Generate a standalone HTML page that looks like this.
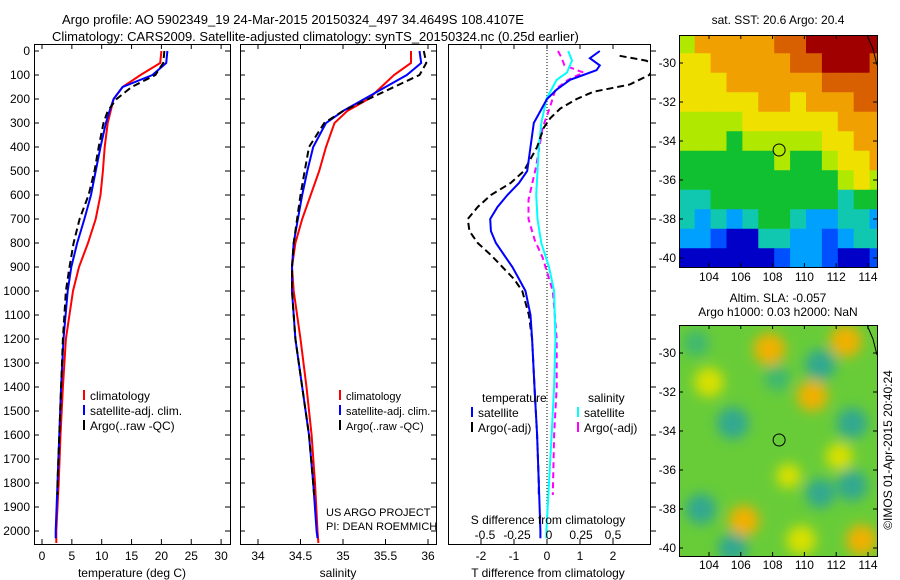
<!DOCTYPE html>
<html><head><meta charset="utf-8">
<style>
html,body{margin:0;padding:0;background:#fff;}
svg{display:block;font-family:"Liberation Sans",sans-serif;}
text{font-size:12px;fill:#000;}
</style></head>
<body>
<svg id="fig" width="900" height="580" xmlns="http://www.w3.org/2000/svg">
<defs id="defs0"></defs>
<text x="62" y="24" style="font-size:13px">Argo profile: AO 5902349_19 24-Mar-2015 20150324_497 34.4649S 108.4107E</text>
<text x="52" y="41" style="font-size:13px">Climatology: CARS2009. Satellite-adjusted climatology: synTS_20150324.nc (0.25d earlier)</text>
<text x="778" y="24" text-anchor="middle">sat. SST: 20.6 Argo: 20.4</text>
<text x="778" y="302" text-anchor="middle">Altim. SLA: -0.057</text>
<text x="778" y="316" text-anchor="middle">Argo h1000: 0.03 h2000: NaN</text>
<text transform="translate(892,450) rotate(-90)" text-anchor="middle">©IMOS 01-Apr-2015 20:40:24</text>
</svg>
<script>
// ---------- data ----------
const tempArgoDepth=[0,50,100,150,200,250,300,400,500,600,700,800,900,1000,1200,1400,1600,1800,1850];
const tempArgo=[20.5,20.3,19,15,12.5,11,10.3,9.5,8.8,7.8,6.3,5.3,4.6,4,3.5,3.2,2.9,2.6,2.6];
const tempSatDepth=[0,50,100,150,200,250,300,400,500,600,700,800,900,1000,1200,1400,1600,1800,2000,2030];
const tempSat=[21,20.8,18.5,13.5,12,11.3,10.7,9.8,9,8.2,7.1,5.9,4.9,4.3,3.6,3.2,2.9,2.6,2.3,2.3];
const tempClimDepth=[0,50,100,150,200,250,300,400,500,600,700,800,900,1000,1200,1400,1600,1800,2000,2050];
const tempClim=[20,19.8,16.5,13.5,12,11.5,11,10.5,10.2,9.8,9,7.7,6.2,5.2,4,3.5,3.1,2.8,2.4,2.4];
const salClim=[35.8,35.8,35.6,35.45,35.3,35.05,34.9,34.8,34.72,34.62,34.52,34.44,34.4,34.42,34.5,34.57,34.63,34.67,34.7,34.71];
const salSat=[35.9,35.92,35.75,35.5,35.25,35.0,34.8,34.65,34.58,34.52,34.47,34.42,34.4,34.4,34.44,34.52,34.6,34.65,34.69,34.7];
const salArgo=[35.95,35.98,35.9,35.6,35.3,35.0,34.78,34.6,34.55,34.5,34.46,34.42,34.4,34.4,34.44,34.52,34.6,34.65,34.66];
const dTsatDepth=[0,30,60,80,100,120,160,200,250,300,400,500,550,600,650,700,750,800,850,900,950,1000,1100,1200,1400,1600,1800,2000,2030];
const dTsat=[1.6,1.3,1.6,1.5,1.1,0.7,0.3,0.0,-0.2,-0.4,-0.5,-0.6,-0.85,-1.2,-1.5,-1.72,-1.7,-1.55,-1.3,-1.05,-0.85,-0.65,-0.5,-0.45,-0.38,-0.3,-0.25,-0.2,-0.2];
const dTargoDepth=[20,40,60,100,140,170,200,240,280,320,400,500,550,600,650,700,750,800,850,900,950,1000,1100,1200,1400,1600,1800,1850];
const dTargo=[2.2,3.0,3.3,3.1,2.5,1.4,0.9,0.4,0.1,-0.1,-0.3,-0.7,-1.1,-1.7,-2.1,-2.4,-2.35,-2.1,-1.7,-1.35,-1.0,-0.75,-0.55,-0.45,-0.38,-0.3,-0.25,-0.25];
const dSsatDepth=[0,40,90,120,200,300,400,500,600,700,800,900,1000,1200,1400,1600,1800,2000,2030];
const dSsat=[0.15,0.18,0.14,0.06,-0.02,-0.06,-0.08,-0.09,-0.1,-0.09,-0.06,0.0,0.04,0.05,0.04,0.02,0.0,-0.02,-0.02];
const dSargoDepth=[0,30,60,90,120,160,230,320,480,620,700,790,860,1000,1200,1400,1600,1850];
const dSargo=[0.07,0.1,0.12,0.27,0.15,0.05,0.01,-0.05,-0.1,-0.16,-0.16,-0.11,-0.05,0.03,0.06,0.06,0.04,0.03];
const depthTicks=[0,100,200,300,400,500,600,700,800,900,1000,1100,1200,1300,1400,1500,1600,1700,1800,1900,2000];
const tempTicks=[0,5,10,15,20,25,30];
const salTicks=[34,34.5,35,35.5,36];
const dTTicks=[-2,-1,0,1,2];
const dSTicks=[-0.5,-0.25,0,0.25,0.5];
const dSTickLabels=['-0.5','-0.25','0','0.25','0.5'];
const sstGrid=[
[6,8,8,8,8,8,9,9,10,10,10,10,10],
[7,7,8,8,8,8,8,9,9,10,10,10,9],
[7,7,7,8,8,8,8,8,8,9,9,9,9],
[7,7,7,7,7,8,8,7,8,8,8,9,9],
[6,6,6,6,7,7,7,7,7,7,8,8,8],
[6,6,6,5,6,6,6,6,6,7,7,8,8],
[5,5,5,5,5,5,6,5,5,6,7,7,8],
[5,5,5,5,5,5,5,5,5,5,6,7,6],
[4,4,5,5,5,5,5,5,5,5,4,5,5],
[4,3,4,3,4,5,5,4,3,3,4,4,3],
[3,3,2,1,1,4,4,3,3,2,3,4,4],
[1,1,1,1,1,1,2,3,3,2,1,1,2]];
const slaBlobLon=[107.8,104,110.5,112.2,106.2,109.8,113.6,112.6,105.5,111,108.3,113,103.5,105.5,111,113,109,103.2];
const slaBlobLat=[-29.8,-31.5,-32.2,-35.3,-38.6,-39.6,-39.6,-29.4,-33.6,-30.6,-31.3,-33.6,-38,-40,-37.2,-36.8,-36.3,-29.5];
const slaBlobVal=[1,0.8,0.9,0.6,0.9,0.8,0.9,1,-1,-0.9,-0.5,-0.9,-0.9,-0.8,-0.8,-0.9,0.4,-0.5];
const lonTicks=[104,106,108,110,112,114];
const latTicks=[-30,-32,-34,-36,-38,-40];
const argoLon=108.41, argoLat=-34.46;
// ---------- helpers ----------
const NS='http://www.w3.org/2000/svg';
const svg=document.getElementById('fig');
const defs=document.getElementById('defs0');
function mk(tag,attrs,parent){const e=document.createElementNS(NS,tag);for(const k in attrs)e.setAttribute(k,attrs[k]);(parent||svg).appendChild(e);return e;}
const yD=d=>51+d*0.24;
const PT=[34,44,230,544], PS=[240,44,436,544], PD=[448,44,650,544];
const xT=v=>42+v*5.97, xS=v=>258+(v-34)*85, xDT=v=>547+v*33, xDS=v=>549+v*128;
function clip(id,b){const c=mk('clipPath',{id:id},defs);mk('rect',{x:b[0],y:b[1],width:b[2]-b[0],height:b[3]-b[1]},c);}
clip('cT',PT);clip('cS',PS);clip('cD',PD);
function line(xs,ds,fx,color,dash,clipId,w){
  let p='';xs.forEach((v,i)=>{p+=(i?'L':'M')+fx(v).toFixed(1)+','+yD(ds[i]).toFixed(1);});
  const e=mk('path',{d:p,fill:'none',stroke:color,'stroke-width':w||2,'clip-path':'url(#'+clipId+')'});
  if(dash)e.setAttribute('stroke-dasharray',dash);
  return e;
}
function box(b){return mk('rect',{x:b[0]+.5,y:b[1]+.5,width:b[2]-b[0],height:b[3]-b[1],fill:'none',stroke:'#000','stroke-width':1});}
function depthTicksFor(b,labels,side){
  depthTicks.forEach(d=>{const y=yD(d);
    if(side==='right'){mk('line',{x1:b[2],x2:b[2]+6,y1:y,y2:y,stroke:'#000'});}
    else{mk('line',{x1:b[0],x2:b[0]+5,y1:y,y2:y,stroke:'#000'});mk('line',{x1:b[2]-5,x2:b[2],y1:y,y2:y,stroke:'#000'});}
    if(labels){const t=mk('text',{x:b[0]-4,y:y+4,'text-anchor':'end'});t.textContent=d;
      
      }
  });
}
function xTicks(b,ticks,fx,labels,ly){
  ticks.forEach((v,i)=>{const x=fx(v);
    mk('line',{x1:x,x2:x,y1:b[3]-5,y2:b[3],stroke:'#000'});mk('line',{x1:x,x2:x,y1:b[1],y2:b[1]+5,stroke:'#000'});
    const t=mk('text',{x:x,y:ly,'text-anchor':'middle'});t.textContent=labels?labels[i]:v;
    
    });
}
function legend(x,y,items,fs){
  items.forEach((it,i)=>{const yy=y+i*15;
    const l=mk('line',{x1:x,x2:x,y1:yy-8,y2:yy+2,stroke:it[1],'stroke-width':2});
    
    
    const t=mk('text',{x:x+6,y:yy+2});t.textContent=it[0];
    if(fs)t.setAttribute('style','font-size:'+fs+'px');
    
    });
}
function title(x,y,s,name){const t=mk('text',{x:x,y:y,'text-anchor':'middle'});t.textContent=s;
  
  }
// ---------- panel 1: temperature ----------
line(tempClim,tempClimDepth,xT,'#f00',null,'cT');
line(tempSat,tempSatDepth,xT,'#00f',null,'cT');
line(tempArgo,tempArgoDepth,xT,'#000','7,4','cT');
box(PT);
depthTicksFor(PT,true);
xTicks(PT,tempTicks,xT,null,560);
title(132,577,'temperature (deg C)','temperature-axis-title');
legend(84,398,[['climatology','#f00'],['satellite-adj. clim.','#00f'],['Argo(..raw -QC)','#000']]);
// ---------- panel 2: salinity ----------
line(salClim,tempClimDepth,xS,'#f00',null,'cS');
line(salSat,tempSatDepth,xS,'#00f',null,'cS');
line(salArgo,tempArgoDepth,xS,'#000','7,4','cS');
box(PS);
depthTicksFor(PS,false);
xTicks(PS,salTicks,xS,null,560);
title(338,577,'salinity','salinity-axis-title');
legend(340,398,[['climatology','#f00'],['satellite-adj. clim.','#00f'],['Argo(..raw -QC)','#000']],11);
{const a=mk('text',{x:326,y:516,style:'font-size:11px'});a.textContent='US ARGO PROJECT';
 
 const b=mk('text',{x:326,y:530,style:'font-size:11px'});b.textContent='PI: DEAN ROEMMICH';
 }
// ---------- panel 3: differences ----------
mk('line',{x1:xDT(0),x2:xDT(0),y1:PD[1],y2:PD[3],stroke:'#000','stroke-dasharray':'1,2'});
line(dSargo,dSargoDepth,xDS,'#f0f','6,4','cD');
line(dSsat,dSsatDepth,xDS,'#0ff',null,'cD');
line(dTargo,dTargoDepth,xDT,'#000','7,4','cD');
line(dTsat,dTsatDepth,xDT,'#00f',null,'cD');
box(PD);
depthTicksFor(PD,false,'right');
dTTicks.forEach(v=>{const x=xDT(v);mk('line',{x1:x,x2:x,y1:PD[3]-5,y2:PD[3],stroke:'#000'});mk('line',{x1:x,x2:x,y1:PD[1],y2:PD[1]+5,stroke:'#000'});
  const t=mk('text',{x:x,y:560,'text-anchor':'middle'});t.textContent=v;
  
  });
dSTicks.forEach((v,i)=>{const t=mk('text',{x:xDS(v),y:539,'text-anchor':'middle'});t.textContent=dSTickLabels[i];
  
  });
title(548,524,'S difference from climatology','s-diff-axis-title');
title(548,577,'T difference from climatology','t-diff-axis-title');
{const t=mk('text',{x:482,y:402});t.textContent='temperature';
 const s=mk('text',{x:588,y:402});s.textContent='salinity';}
legend(472,415,[['satellite','#00f'],['Argo(-adj)','#000']]);
legend(578,415,[['satellite','#0ff'],['Argo(-adj)','#f0f']]);
// ---------- maps ----------
const jet=['#00008f','#0000c8','#0050ff','#00a0ff','#10c8b0','#10c030','#b0e800','#f0e000','#f0a000','#d86000','#a00000'];
function mapAxes(top,bot,lat0y){
  const b=[679,top,877,bot];
  const xL=lon=>709+(lon-104)*15.9, yL=lat=>lat0y+(-30-lat)*19.5;
  return {b,xL,yL};
}
function mapFrame(m,name,lonY){
  const b=m.b;
  box(b);
  lonTicks.forEach(l=>{const x=m.xL(l);mk('line',{x1:x,x2:x,y1:b[1],y2:b[1]+4,stroke:'#000'});mk('line',{x1:x,x2:x,y1:b[3]-4,y2:b[3],stroke:'#000'});
    const t=mk('text',{x:x,y:lonY,'text-anchor':'middle'});t.textContent=l;
    
    });
  latTicks.forEach(l=>{const y=m.yL(l);mk('line',{x1:b[0],x2:b[0]+4,y1:y,y2:y,stroke:'#000'});mk('line',{x1:b[2]-4,x2:b[2],y1:y,y2:y,stroke:'#000'});
    const t=mk('text',{x:b[0]-3,y:y+4,'text-anchor':'end'});t.textContent=l;
    
    });
  const c=mk('circle',{cx:m.xL(argoLon),cy:m.yL(argoLat),r:6,fill:'none',stroke:'#000','stroke-width':1});
  
  
  mk('path',{d:`M${b[2]-10},${b[1]} L${b[2]-4},${b[1]+14} L${b[2]},${b[1]+30}`,fill:'none',stroke:'#000'});
}
const m1=mapAxes(35,267,63);
clip('cM1',m1.b);
const g1=mk('g',{'clip-path':'url(#cM1)'});

sstGrid.forEach((row,j)=>row.forEach((v,i)=>{
  const x0=m1.xL(102.1+i), y0=m1.yL(-28.5-j);
  const r=mk('rect',{x:x0,y:y0,width:15.9+0.5,height:19.5+0.5,fill:jet[v]},g1);
  
  
}));
mapFrame(m1,'sst-map',281);
const m2=mapAxes(325,556,353);
clip('cM2',m2.b);
const f=mk('filter',{id:'blur',x:'-50%',y:'-50%',width:'200%',height:'200%'},defs);
mk('feGaussianBlur',{stdDeviation:6},f);
const g2=mk('g',{'clip-path':'url(#cM2)'});

mk('rect',{x:679,y:325,width:198,height:231,fill:'#68cc38'},g2);
const gb=mk('g',{filter:'url(#blur)'},g2);
slaBlobLon.forEach((lon,i)=>{const v=slaBlobVal[i];
  const col=v>0?(v>0.85?'#f0b000':'#d8e000'):(v<-0.7?'#30a890':'#40b870');
  const c=mk('circle',{cx:m2.xL(lon),cy:m2.yL(slaBlobLat[i]),r:10+Math.abs(v)*6,fill:col},gb);
  
  
});
mapFrame(m2,'sla-map',569);
</script>
</body></html>
